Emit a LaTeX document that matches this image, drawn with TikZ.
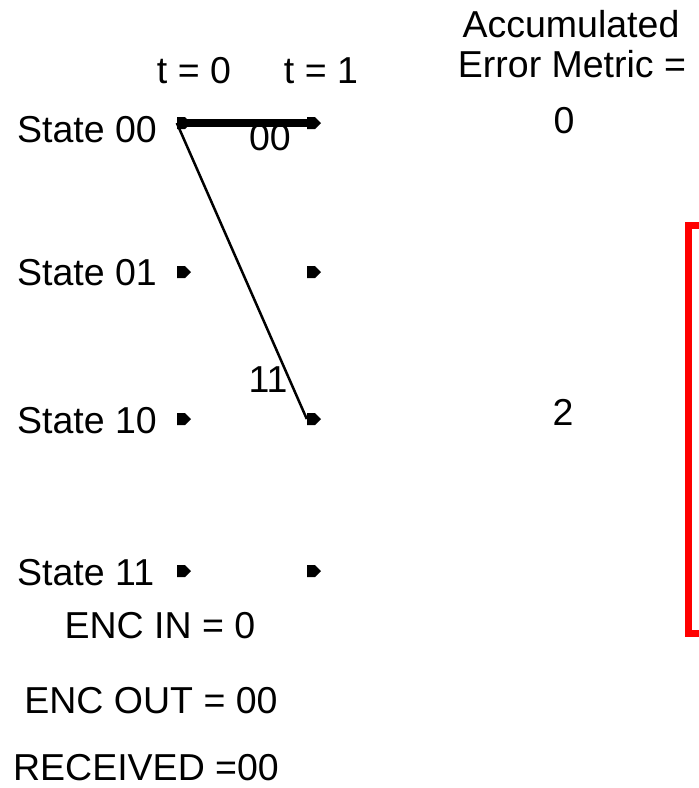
\documentclass[tikz,border=0pt]{standalone}
\usepackage{fontspec}
\setmainfont{Liberation Sans}
\usepackage{tikz}
\usetikzlibrary{shapes.symbols}
\definecolor{metricred}{RGB}{255,0,0}
\tikzset{
    lbl/.style={font=\fontsize{37.5}{40}\selectfont, inner sep=0pt, anchor=base},
    sdot/.style={signal, signal to=east, fill=black, draw=none, inner sep=0pt,
                 minimum width=14pt, minimum height=12pt},
    surv/.style={line width=8pt},
    trl/.style={line width=2.5pt},
    brk/.style={draw=metricred, line width=7pt},
}

\begin{document}
\begin{tikzpicture}[x=1pt, y=-1pt]
    \useasboundingbox (0,0) rectangle (699,788);
    % header
    \node[lbl] (acc) at (571,37) {Accumulated};
    \node[lbl] (err) at (572,77) {Error Metric =};
    \node[lbl] (t0) at (194,83) {t = 0};
    \node[lbl] (t1) at (321,83) {t = 1};
    % states and trellis points
    \foreach \n/\y in {00/142, 01/285, 10/433, 11/585}
        \node[lbl, anchor=base west] (st\n) at (17,\y) {State \n};
    \foreach \n/\y in {00/123, 01/272, 10/419, 11/571} {
        \node[sdot] (a\n) at (181,\y) {};
        \node[sdot] (b\n) at (311,\y) {};
    }
    % branches
    \draw[surv] (a00.west) -- (b00.center);
    \draw[trl] (a00.west) -- (b10.west);
    \node[lbl] (o00) at (270,150) {00};
    \node[lbl] (o11) at (268,392) {11};
    % metrics
    \node[lbl] (m00) at (564,133) {0};
    \node[lbl] (m10) at (563,425) {2};
    \draw[brk] (699,225.5) -- (688.5,225.5) -- (688.5,633.5) -- (699,633.5);
    % encoder info
    \node[lbl] (encin) at (160,638) {ENC IN = 0};
    \node[lbl] (encout) at (151,713) {ENC OUT = 00};
    \node[lbl] (recv) at (146,780) {RECEIVED =00};
\end{tikzpicture}
\end{document}
